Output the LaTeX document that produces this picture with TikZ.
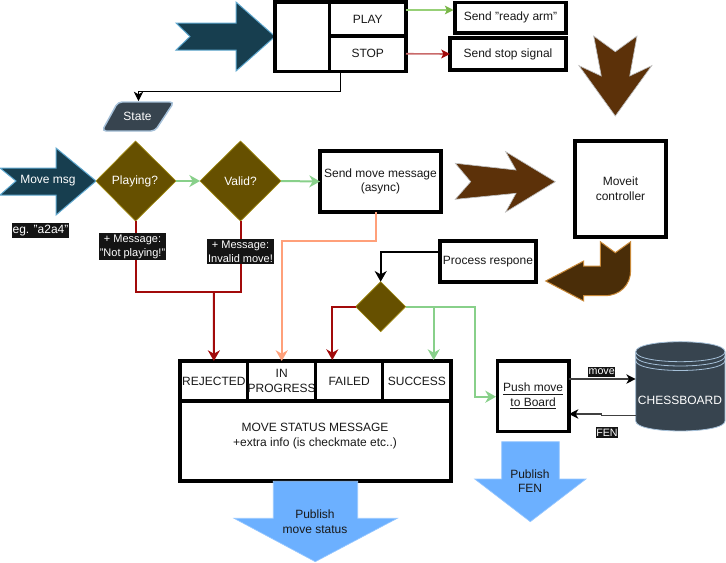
\documentclass[tikz,border=0pt]{standalone}
\usepackage{fontspec}
\setmainfont{Liberation Sans}
\usetikzlibrary{arrows.meta}
\definecolor{tealfill}{HTML}{173E4F}
\definecolor{tealline}{HTML}{5FA8CF}
\definecolor{slatefill}{HTML}{37444F}
\definecolor{slateline}{HTML}{A5C0D8}
\definecolor{goldfill}{HTML}{665000}
\definecolor{goldline}{HTML}{A08A10}
\definecolor{brownfill}{HTML}{5C3109}
\definecolor{bentfill}{HTML}{4A2D08}
\definecolor{bentline}{HTML}{C98A3A}
\definecolor{skyfill}{HTML}{6CB0FF}
\definecolor{okgreen}{HTML}{88D08A}
\definecolor{readygreen}{HTML}{97D077}
\definecolor{readyhead}{HTML}{7AB648}
\definecolor{badred}{HTML}{A20A0A}
\definecolor{stopline}{HTML}{C96A6A}
\definecolor{asyncorange}{HTML}{FFA07A}
\tikzset{
    every node/.style={font=\fontsize{9}{11}\selectfont, align=center, text=black!90, inner sep=0pt, outer sep=0pt},
    cellbox/.style 2 args={draw=black, line width=2.3pt, fill=white, minimum width=#1*0.75pt, minimum height=#2*0.75pt},
    darklabel/.style={fill=black!92, text=white!92, inner xsep=0.5pt, inner ysep=1.2pt, font=\fontsize{8.25}{10.5}\selectfont},
    paletext/.style={text=white!90},
    bigarrow/.style={line width=0.75pt, line join=miter},
    okline/.style={okgreen, line width=1.5pt, -{Stealth[length=8pt, width=9pt, inset=2.5pt]}},
    badline/.style={badred, line width=1.5pt, -{Stealth[length=8pt, width=9pt, inset=2.5pt]}},
}
\begin{document}
\begin{tikzpicture}[x=0.75pt, y=-0.75pt]
    \useasboundingbox (0,0) rectangle (726,562);
    % Incoming arrows
    \draw[bigarrow, tealline, fill=tealfill] (176,23) -- (236,23) -- (236,2) -- (275,36.5) -- (236,71) -- (236,50) -- (176,50) -- (190,36.5) -- cycle;
    \draw[bigarrow, tealline, fill=tealfill] (0,168) -- (56,168) -- (56,148) -- (96,181) -- (56,215) -- (56,195) -- (0,195) -- (16,181) -- cycle;
    \node[paletext] (movemsg) at (48,181) {Move msg};
    \node[darklabel, font=\fontsize{9}{11}\selectfont] (example) at (40.5,230.5) {eg. "a2a4"};
    % Top box
    \node[cellbox={54.5}{69.5}] (statecell) at (302.25,36.75) {};
    \node[cellbox={76.5}{34}] (play) at (367.75,19) {PLAY};
    \node[cellbox={76.5}{35.5}] (stop) at (367.75,53.75) {STOP};
    \node[cellbox={111}{30.5}] (ready) at (510.5,17.75) {Send "ready arm"};
    \node[cellbox={116}{32}] (stopsignal) at (508,54) {Send stop signal};
    \coordinate (playout) at (406,10);
    \coordinate (readyin) at (453.5,10);
    \draw[readygreen, line width=0.9pt, -{Stealth[length=6.5pt, width=6.5pt, inset=1.5pt, color=readyhead]}] (playout) -- (readyin);
    \draw[stopline, line width=1.2pt, -{Stealth[length=6.5pt, width=6.5pt, inset=1.5pt, color=badred]}] (stop.east) -- (stopsignal.west);
    % State
    \draw[slateline, line width=1.1pt, fill=slatefill, rounded corners=3pt] (118,102) -- (174,102) -- (155,131) -- (102,131) -- cycle;
    \node[paletext] (state) at (137.5,116) {State};
    \coordinate (stateout) at (340.5,71.5);
    \coordinate (statebend) at (138.5,91);
    \coordinate (statein) at (138.5,101);
    \draw[black, line width=0.75pt, -{Stealth[length=7pt, width=7pt, inset=2pt]}] (stateout) |- (statebend) -- (statein);
    % Checks
    \draw[goldline, line width=0.5pt, fill=goldfill] (96,181) -- (135.5,141) -- (176,181) -- (135.5,221) -- cycle;
    \node[paletext] (playing) at (135,181) {Playing?};
    \draw[goldline, line width=0.5pt, fill=goldfill] (200,181) -- (240.5,141) -- (281,181) -- (240.5,221) -- cycle;
    \node[paletext] (valid) at (240.5,181) {Valid?};
    \coordinate (playingout) at (176,181);
    \coordinate (validin) at (200,181);
    \coordinate (validout) at (281,181);
    \coordinate (playingdown) at (135.5,221);
    \coordinate (validdown) at (240.5,221);
    \coordinate (rejectjoin) at (214,291.5);
    % Send move
    \node[cellbox={121}{61}] (send) at (380.5,181.5) {Send move message\\(async)};
    \node[cellbox={91}{96}] (moveit) at (620.5,189) {Moveit\\controller};
    \node[cellbox={96}{41}] (process) at (488,261.5) {Process respone};
    % Brown arrows
    \draw[black!25, line width=0.5pt, fill=brownfill] (593.7,36) -- (615.3,51.7) -- (637,36) -- (629.7,76) -- (651.7,65.7) -- (615.3,116) -- (579,65.7) -- (601.3,76) -- cycle;
    \draw[black!25, line width=0.5pt, fill=brownfill] (455.3,163.3) -- (516,170) -- (505.7,151.7) -- (555.3,181.7) -- (505.7,212) -- (516,193.3) -- (455.3,199.3) -- (470.7,181.7) -- cycle;
    \draw[bentline, line width=0.75pt, fill=bentfill] (545.7,281) -- (583.7,261) -- (583.7,266) -- (600.3,266) -- (600.3,241.7) -- (615.3,252.7) -- (630.7,241.7) -- (630.7,270) .. controls (630.7,285) and (620,295.7) .. (604.7,295.7) -- (583.7,295.7) -- (583.7,301) -- cycle;
    % Status message
    \node[cellbox={67.7}{40}] (rejected) at (213.85,381) {REJECTED};
    \node[cellbox={68}{40}] (inprogress) at (281.7,381) {IN\\PROGRESS};
    \node[cellbox={67}{40}] (failed) at (349.2,381) {FAILED};
    \node[cellbox={68.3}{40}] (success) at (416.85,381) {SUCCESS};
    \node[cellbox={271}{80}] (statusbox) at (315.5,441) {};
    \node (statustext) at (315,436) {MOVE STATUS MESSAGE\\+extra info (is checkmate etc..)};
    % Rejected paths
    \draw[okline] (playingout) -- (validin);
    \draw[okline] (validout) -- (send.west);
    \draw[badline, -] (playingdown) |- (rejectjoin);
    \draw[badline, -] (validdown) |- (rejectjoin);
    \draw[badline] (rejectjoin) -- (rejected.north);
    \node[darklabel, paletext] (notplaying) at (132.5,246.5) {+ Message:\\"Not playing!"};
    \node[darklabel, paletext] (invalid) at (240.5,251.5) {+ Message:\\Invalid move!};
    % Async path
    \coordinate (sendout) at (375.7,212);
    \coordinate (asyncbend) at (375.7,241);
    \draw[asyncorange, line width=1.5pt, -{Stealth[length=8pt, width=9pt, inset=2.5pt]}] (sendout) -- (asyncbend) -| (inprogress.north);
    % Response check
    \draw[goldline, line width=0.5pt, fill=goldfill] (355.7,306.7) -- (380.7,281.7) -- (405.7,306.7) -- (380.7,331.7) -- cycle;
    \coordinate (responseleft) at (355.7,306.7);
    \coordinate (responseright) at (405.7,306.7);
    \coordinate (responsetop) at (380.7,281.7);
    \coordinate (processout) at (440,251.7);
    \draw[black, line width=1.4pt, -{Stealth[length=8pt, width=9pt, inset=2.5pt]}] (processout) -| (responsetop);
    \coordinate (failedin) at (332.3,360);
    \coordinate (successin) at (433.7,360);
    \coordinate (pushbend) at (475,396.7);
    \coordinate (pushin) at (496,396.7);
    \draw[badline] (responseleft) -| (failedin);
    \draw[okline] (responseright) -| (successin);
    \draw[okline] (responseright) -| (pushbend) -- (pushin);
    % Board
    \node[cellbox={71.7}{70.7}] (push) at (533.15,396.35) {\underline{Push move}\\\underline{to Board}};
    \draw[slateline, line width=0.6pt, fill=slatefill] (635.7,351.7) .. controls (635.7,338.4) and (725,338.4) .. (725,351.7) -- (725,421) .. controls (725,434.3) and (635.7,434.3) .. (635.7,421) -- cycle;
    \draw[slateline, line width=0.6pt] (635.7,351.7) .. controls (635.7,365) and (725,365) .. (725,351.7);
    \draw[slateline, line width=0.6pt] (635.7,356) .. controls (635.7,369.3) and (725,369.3) .. (725,356);
    \draw[slateline, line width=0.6pt] (635.7,360.5) .. controls (635.7,373.8) and (725,373.8) .. (725,360.5);
    \node[paletext] (chessboard) at (680,400.5) {CHESSBOARD};
    \coordinate (pushmove) at (569,379);
    \coordinate (boardmove) at (635.7,379);
    \coordinate (boardfen) at (635.7,415.7);
    \coordinate (fenbend) at (601.5,414);
    \coordinate (pushfen) at (569,414);
    \draw[black!75, line width=1pt, -{Stealth[length=7pt, width=7pt, inset=2pt, color=black]}] (pushmove) -- (boardmove);
    \draw[black!75, line width=1pt, -{Stealth[length=7pt, width=7pt, inset=2pt, color=black]}] (boardfen) -| (fenbend) -- (pushfen);
    \node[darklabel, paletext, font=\fontsize{8}{10}\selectfont] (movelabel) at (601.7,372) {move};
    \node[darklabel, paletext, font=\fontsize{8}{10}\selectfont] (fenlabel) at (607,432.5) {FEN};
    % Publish arrows
    \draw[skyfill!70!white, line width=0.5pt, fill=skyfill] (273.3,481.3) -- (357.7,481.3) -- (357.7,518.3) -- (397.3,518.3) -- (315.3,561.7) -- (234,518.3) -- (273.3,518.3) -- cycle;
    \node (publishstatus) at (315,521.5) {Publish\\move status};
    \draw[skyfill!70!white, line width=0.5pt, fill=skyfill] (501.7,441.7) -- (559.3,441.7) -- (559.3,479) -- (586,479) -- (530.3,521.7) -- (474.7,479) -- (501.7,479) -- cycle;
    \node (publishfen) at (530,481) {Publish\\FEN};
\end{tikzpicture}
\end{document}
